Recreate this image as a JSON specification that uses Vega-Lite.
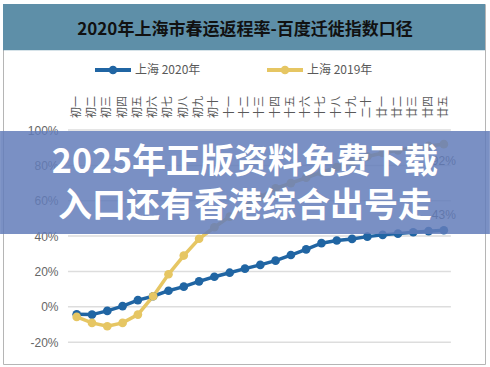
{
  "$schema": "https://vega.github.io/schema/vega-lite/v6.json",
  "width": 482,
  "height": 360,
  "autosize": "none",
  "padding": {"left": 3, "top": 4, "right": 5, "bottom": 3},
  "background": "white",
  "config": {"view": {"stroke": "#b5b5b5", "strokeWidth": 1}, "font": "Liberation Sans"},
  "datasets": {
    "series": [
      {"day": 1, "series": "上海 2020年", "value": -4.2},
      {"day": 2, "series": "上海 2020年", "value": -4.4},
      {"day": 3, "series": "上海 2020年", "value": -2.3},
      {"day": 4, "series": "上海 2020年", "value": 0.4},
      {"day": 5, "series": "上海 2020年", "value": 3.8},
      {"day": 6, "series": "上海 2020年", "value": 6.0},
      {"day": 7, "series": "上海 2020年", "value": 9.1},
      {"day": 8, "series": "上海 2020年", "value": 11.4},
      {"day": 9, "series": "上海 2020年", "value": 14.4},
      {"day": 10, "series": "上海 2020年", "value": 17.0},
      {"day": 11, "series": "上海 2020年", "value": 19.3},
      {"day": 12, "series": "上海 2020年", "value": 21.6},
      {"day": 13, "series": "上海 2020年", "value": 23.7},
      {"day": 14, "series": "上海 2020年", "value": 26.1},
      {"day": 15, "series": "上海 2020年", "value": 29.3},
      {"day": 16, "series": "上海 2020年", "value": 32.5},
      {"day": 17, "series": "上海 2020年", "value": 36.0},
      {"day": 18, "series": "上海 2020年", "value": 37.5},
      {"day": 19, "series": "上海 2020年", "value": 38.4},
      {"day": 20, "series": "上海 2020年", "value": 39.7},
      {"day": 21, "series": "上海 2020年", "value": 40.7},
      {"day": 22, "series": "上海 2020年", "value": 41.4},
      {"day": 23, "series": "上海 2020年", "value": 42.2},
      {"day": 24, "series": "上海 2020年", "value": 42.8},
      {"day": 25, "series": "上海 2020年", "value": 43.3},
      {"day": 1, "series": "上海 2019年", "value": -5.7},
      {"day": 2, "series": "上海 2019年", "value": -9.1},
      {"day": 3, "series": "上海 2019年", "value": -11.0},
      {"day": 4, "series": "上海 2019年", "value": -9.1},
      {"day": 5, "series": "上海 2019年", "value": -4.4},
      {"day": 6, "series": "上海 2019年", "value": 6.0},
      {"day": 7, "series": "上海 2019年", "value": 18.4},
      {"day": 8, "series": "上海 2019年", "value": 29.0},
      {"day": 9, "series": "上海 2019年", "value": 38.5},
      {"day": 10, "series": "上海 2019年", "value": 45.0},
      {"day": 11, "series": "上海 2019年", "value": 51.0},
      {"day": 12, "series": "上海 2019年", "value": 57.0},
      {"day": 13, "series": "上海 2019年", "value": 62.0},
      {"day": 14, "series": "上海 2019年", "value": 67.0},
      {"day": 15, "series": "上海 2019年", "value": 70.0},
      {"day": 16, "series": "上海 2019年", "value": 73.0},
      {"day": 17, "series": "上海 2019年", "value": 76.0},
      {"day": 18, "series": "上海 2019年", "value": 79.0},
      {"day": 19, "series": "上海 2019年", "value": 82.0},
      {"day": 20, "series": "上海 2019年", "value": 85.0},
      {"day": 21, "series": "上海 2019年", "value": 87.0},
      {"day": 22, "series": "上海 2019年", "value": 88.5},
      {"day": 23, "series": "上海 2019年", "value": 90.0},
      {"day": 24, "series": "上海 2019年", "value": 91.0},
      {"day": 25, "series": "上海 2019年", "value": 92.0}
    ],
    "days": [
      {"day": 1, "label": "初一"}, {"day": 2, "label": "初二"}, {"day": 3, "label": "初三"}, {"day": 4, "label": "初四"},
      {"day": 5, "label": "初五"}, {"day": 6, "label": "初六"}, {"day": 7, "label": "初七"}, {"day": 8, "label": "初八"},
      {"day": 9, "label": "初九"}, {"day": 10, "label": "初十"}, {"day": 11, "label": "十一"}, {"day": 12, "label": "十二"},
      {"day": 13, "label": "十三"}, {"day": 14, "label": "十四"}, {"day": 15, "label": "十五"}, {"day": 16, "label": "十六"},
      {"day": 17, "label": "十七"}, {"day": 18, "label": "十八"}, {"day": 19, "label": "十九"}, {"day": 20, "label": "二十"},
      {"day": 21, "label": "廿一"}, {"day": 22, "label": "廿二"}, {"day": 23, "label": "廿三"}, {"day": 24, "label": "廿四"},
      {"day": 25, "label": "廿五"}
    ],
    "grid": [{"v": -20}, {"v": 0}, {"v": 20}, {"v": 40}, {"v": 60}, {"v": 80}, {"v": 100}],
    "one": [{}]
  },
  "layer": [
    {
      "data": {"name": "one"},
      "mark": {"type": "rect", "color": "#5e8fa8"},
      "encoding": {
        "x": {"datum": -3.817, "type": "quantitative", "axis": null},
        "x2": {"datum": 27.69},
        "y": {"datum": 171.3, "type": "quantitative"},
        "y2": {"datum": 145.2}
      }
    },
    {
      "data": {"name": "one"},
      "mark": {"type": "text", "text": "2020年上海市春运返程率-百度迁徙指数口径", "font": "Noto Sans CJK SC", "fontWeight": "bold", "fontSize": 17, "color": "#111111", "align": "center", "baseline": "middle"},
      "encoding": {
        "x": {"datum": 12.0, "type": "quantitative", "axis": null},
        "y": {"datum": 156.6, "type": "quantitative"}
      }
    },
    {
      "data": {"name": "grid"},
      "mark": {"type": "rule", "color": "#dddddd", "strokeWidth": 1.5},
      "encoding": {
        "y": {"field": "v", "type": "quantitative"},
        "x": {"datum": 0.43, "type": "quantitative", "axis": null},
        "x2": {"datum": 25.46}
      }
    },
    {
      "data": {"name": "days"},
      "mark": {"type": "text", "angle": 270, "align": "left", "baseline": "middle", "font": "Noto Sans CJK SC", "fontSize": 11, "color": "#595959"},
      "encoding": {
        "x": {"field": "day", "type": "quantitative", "axis": null},
        "y": {"datum": 106.8, "type": "quantitative"},
        "text": {"field": "label"}
      }
    },
    {
      "data": {"name": "series"},
      "mark": {"type": "line", "strokeWidth": 3.5, "point": {"filled": true, "size": 75, "opacity": 1}},
      "encoding": {
        "x": {
          "field": "day", "type": "quantitative",
          "scale": {"domain": [-3.817, 27.69], "nice": false, "zero": false},
          "axis": null
        },
        "y": {
          "field": "value", "type": "quantitative",
          "scale": {"domain": [-32.35, 171.3], "nice": false, "zero": false},
          "axis": {
            "orient": "left", "offset": -60, "values": [-20, 0, 20, 40, 60, 80, 100],
            "labelExpr": "datum.value + '%'", "ticks": false, "domain": false, "grid": false,
            "labelPadding": 5, "labelFontSize": 12, "labelColor": "#666666", "title": null,
            "labelFont": "Liberation Sans", "labelFlush": false, "labelOverlap": false
          }
        },
        "color": {
          "field": "series", "type": "nominal",
          "scale": {"domain": ["上海 2020年", "上海 2019年"], "range": ["#2065a3", "#e6c663"]},
          "legend": {
            "orient": "none", "legendX": 92, "legendY": 48, "direction": "horizontal", "title": null,
            "symbolType": "M-1,-0.11H1V0.11H-1Z M0.24,0A0.24,0.24 0 1,1 -0.24,0A0.24,0.24 0 1,1 0.24,0Z",
            "symbolSize": 1296, "symbolStrokeWidth": 0, "labelOffset": 4, "columnPadding": 66,
            "labelFont": "Noto Sans CJK SC", "labelFontSize": 12, "labelColor": "#595959",
            "encode": {"symbols": {"update": {"fill": {"scale": "color", "field": "value"}, "stroke": {"value": "transparent"}, "opacity": {"value": 1}}}}
          }
        },
        "order": {"field": "day"}
      }
    },
    {
      "data": {"name": "series"},
      "transform": [{"filter": "datum.day == 25 && datum.series == '上海 2020年'"}, {"calculate": "round(datum.value) + '%'", "as": "txt"}],
      "mark": {"type": "text", "dy": -15, "fontSize": 12, "color": "#595959", "align": "center"},
      "encoding": {
        "x": {"field": "day", "type": "quantitative", "axis": null},
        "y": {"field": "value", "type": "quantitative"},
        "text": {"field": "txt"}
      }
    },
    {
      "data": {"name": "series"},
      "transform": [{"filter": "datum.day == 25 && datum.series == '上海 2019年'"}, {"calculate": "round(datum.value) + '%'", "as": "txt"}],
      "mark": {"type": "text", "dy": 17, "fontSize": 12, "color": "#595959", "align": "center"},
      "encoding": {
        "x": {"field": "day", "type": "quantitative", "axis": null},
        "y": {"field": "value", "type": "quantitative"},
        "text": {"field": "txt"}
      }
    },
    {
      "data": {"name": "one"},
      "mark": {"type": "rect", "color": "#637dba", "opacity": 0.85},
      "encoding": {
        "x": {"datum": -4.01, "type": "quantitative", "axis": null},
        "x2": {"datum": 28.01},
        "y": {"datum": 99.4, "type": "quantitative"},
        "y2": {"datum": 41.2}
      }
    },
    {
      "data": {"name": "one"},
      "mark": {"type": "text", "text": ["2025年正版资料免费下载", "入口还有香港综合出号走"], "lineHeight": 44, "font": "Noto Sans CJK SC", "fontWeight": "bold", "fontSize": 34, "color": "white", "align": "center", "baseline": "middle"},
      "encoding": {
        "x": {"datum": 12.0, "type": "quantitative", "axis": null},
        "y": {"datum": 81.3, "type": "quantitative"}
      }
    }
  ]
}
